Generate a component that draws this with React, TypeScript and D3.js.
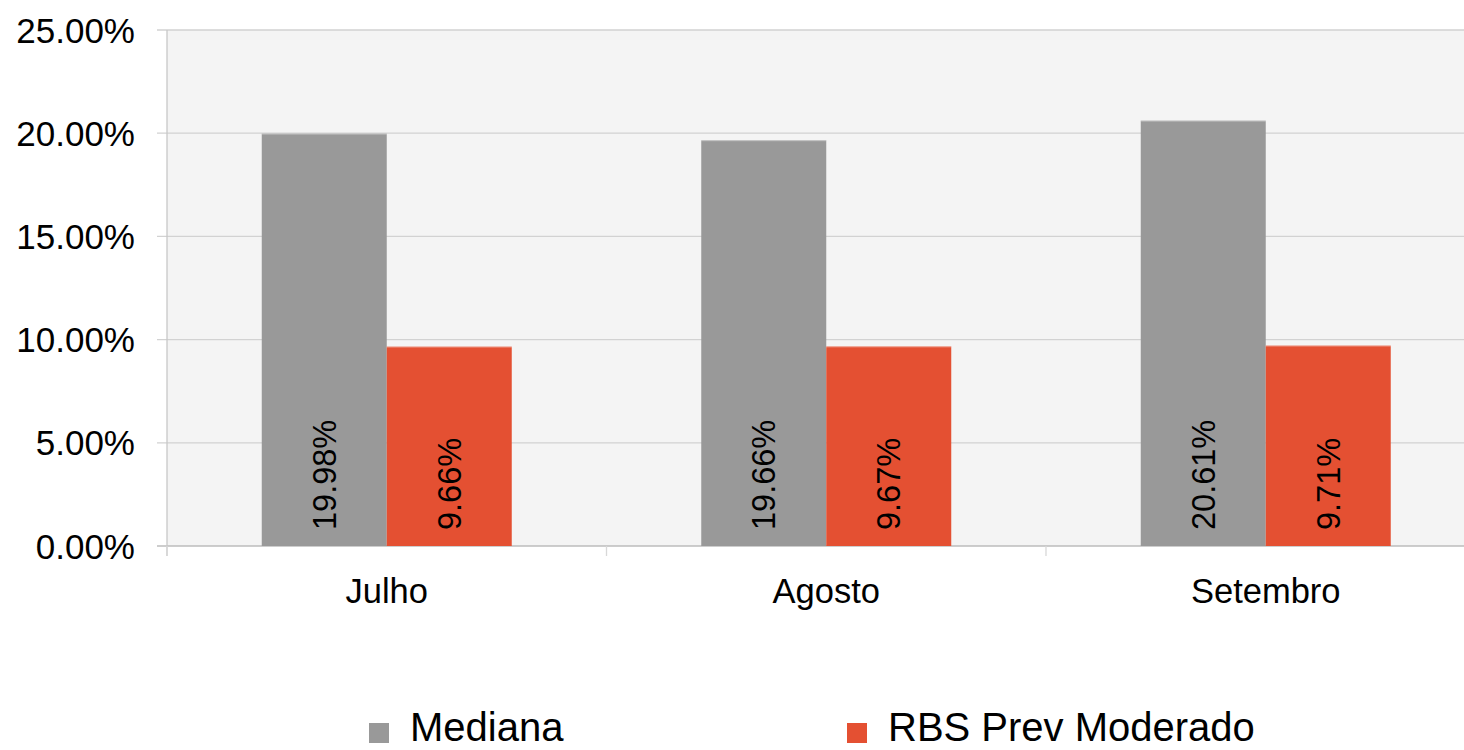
import React from "react";
import * as d3 from "d3";

const categories = ["Julho", "Agosto", "Setembro"];
const seriesNames = ["Mediana", "RBS Prev Moderado"];
const medianaValues = [19.98, 19.66, 20.61];
const rbsValues = [9.66, 9.67, 9.71];
const yTicks = [0, 5, 10, 15, 20, 25];
const seriesColors = ["#999999", "#E45032"];

const W = 1464;
const H = 750;
const FONT = "'Liberation Sans', Arial, sans-serif";

export default function App() {
  const left = 167;
  const top = 30;
  const bottom = 546;
  const step = 439.5;
  const right = left + step * categories.length;

  const x = d3.scaleBand<string>().domain(categories).range([left, right]).paddingInner(0).paddingOuter(0);
  const xs = d3.scaleBand<string>().domain(seriesNames).range([0, x.bandwidth()]).paddingInner(0).paddingOuter(0.758);
  const y = d3.scaleLinear().domain([0, 25]).range([bottom, top]);

  const series = [medianaValues, rbsValues];

  return (
    <svg width={W} height={H} style={{ position: "absolute", left: 0, top: 0, background: "#fff" }} fontFamily={FONT}>
      <rect x={left} y={top} width={W - left} height={bottom - top} fill="#F4F4F4" />
      {yTicks.map((t) => (
        <g key={t}>
          <line x1={157} x2={W} y1={y(t)} y2={y(t)} stroke={t === 0 ? "#BDBDBD" : "#D2D2D2"} strokeWidth={1.3} />
          <text x={135} y={y(t)} dy="0.36em" textAnchor="end" fontSize={35} fill="#000">
            {t.toFixed(2) + "%"}
          </text>
        </g>
      ))}
      <line x1={left} x2={left} y1={top} y2={bottom + 10} stroke="#C8C8C8" strokeWidth={1.3} />
      {categories.map((c, i) => (
        <line key={"tk" + i} x1={x(c) as number} x2={x(c) as number} y1={bottom} y2={bottom + 10} stroke="#D8D8D8" strokeWidth={1.3} />
      ))}
      {categories.map((c, i) => (
        <g key={c}>
          {seriesNames.map((s, si) => {
            const v = series[si][i];
            const bx = (x(c) as number) + (xs(s) as number);
            const bw = xs.bandwidth();
            const cx = bx + bw / 2;
            return (
              <g key={s}>
                <rect x={bx} y={y(v)} width={bw} height={bottom - y(v)} fill={seriesColors[si]} />
                <line x1={bx} x2={bx + bw} y1={y(v) + 0.5} y2={y(v) + 0.5} stroke="#ffffff" strokeOpacity={0.35} strokeWidth={1} />
                <text
                  transform={`translate(${cx},${bottom - 16}) rotate(-90)`}
                  dy="0.36em"
                  textAnchor="start"
                  fontSize={32.5}
                  fill="#000"
                >
                  {v.toFixed(2) + "%"}
                </text>
              </g>
            );
          })}
          <text x={(x(c) as number) + x.bandwidth() / 2} y={603} textAnchor="middle" fontSize={34.5} fill="#000">
            {c}
          </text>
        </g>
      ))}
      {seriesNames.map((s, si) => {
        const lx = [369, 847][si];
        return (
          <g key={"lg" + s}>
            <rect x={lx} y={723} width={20} height={20} fill={seriesColors[si]} />
            <text x={lx + 41} y={741} fontSize={40} fill="#000">
              {s}
            </text>
          </g>
        );
      })}
    </svg>
  );
}
